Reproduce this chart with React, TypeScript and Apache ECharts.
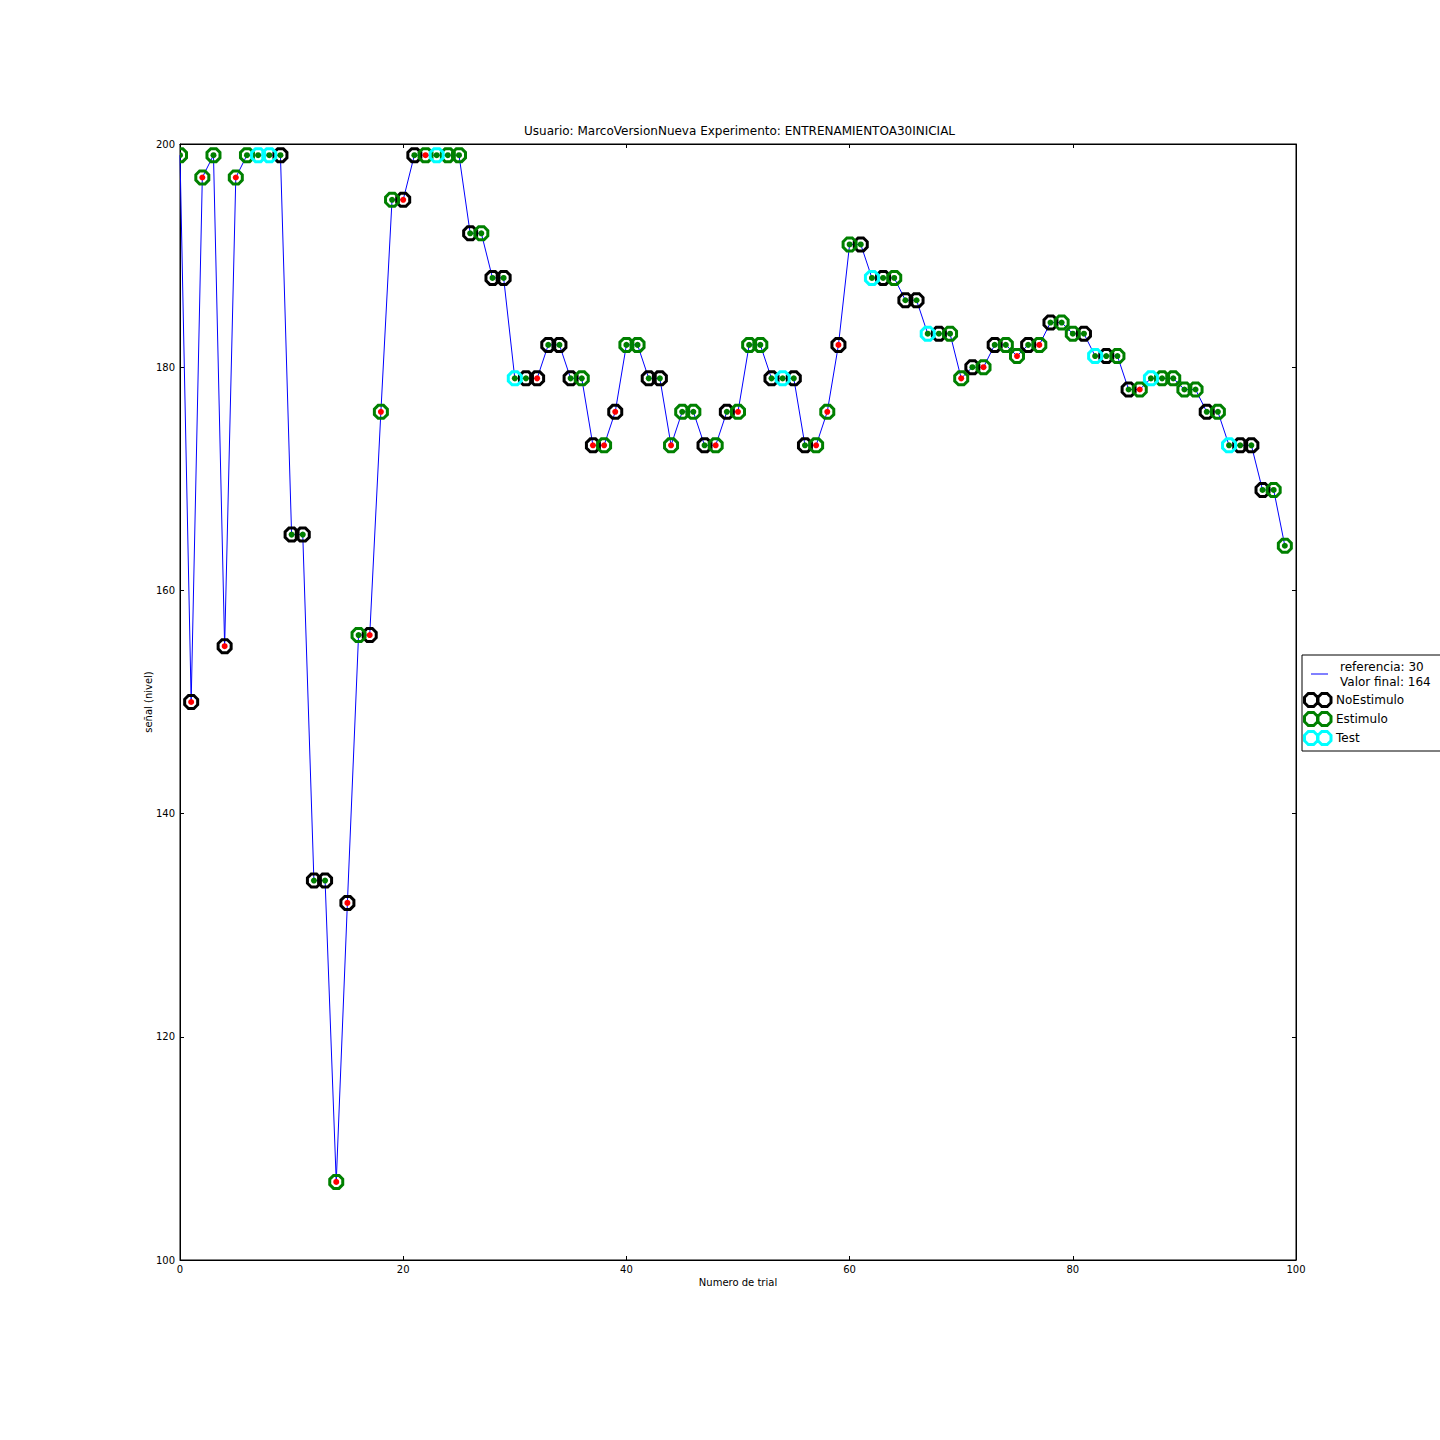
import React, { useEffect, useRef } from "react";
import * as echarts from "echarts";

// Señal (nivel) por trial, trials 0..99
const signal: number[] = [
  199, 150, 197, 199, 155, 197, 199, 199, 199, 199,
  165, 165, 134, 134, 107, 132, 156, 156, 176, 195,
  195, 199, 199, 199, 199, 199, 192, 192, 188, 188,
  179, 179, 179, 182, 182, 179, 179, 173, 173, 176,
  182, 182, 179, 179, 173, 176, 176, 173, 173, 176,
  176, 182, 182, 179, 179, 179, 173, 173, 176, 182,
  191, 191, 188, 188, 188, 186, 186, 183, 183, 183,
  179, 180, 180, 182, 182, 181, 182, 182, 184, 184,
  183, 183, 181, 181, 181, 178, 178, 179, 179, 179,
  178, 178, 176, 176, 173, 173, 173, 169, 169, 164,
];

// Tipo de trial: N = NoEstimulo, E = Estimulo, T = Test
const trialType: string[] = (
  "ENEENEETTN" +
  "NNNNENENEE" +
  "NNETEENENN" +
  "TNNNNNENEN" +
  "EENNEEENEN" +
  "EEENTNNEEN" +
  "ENTNENNTNE" +
  "ENENEENENE" +
  "ENTNENETEE" +
  "EENETNNNEE"
).split("");

// Respuesta: g = correcta (verde), r = incorrecta (rojo)
const response: string[] = (
  "grrgrrgggg" +
  "ggggrrgrrg" +
  "rgrggggggg" +
  "ggrggggrrr" +
  "ggggrgggrg" +
  "rggggggrrr" +
  "gggggggggg" +
  "rgrggrgrgg" +
  "ggggggrggg" +
  "gggggggggg"
).split("");

const referencia = 30;
const xTicks = { min: 0, max: 100, interval: 20 };
const yTicks = { min: 100, max: 200, interval: 20 };

const titleText = "Usuario: MarcoVersionNueva Experimento: ENTRENAMIENTOA30INICIAL";
const xName = "Numero de trial";
const yName = "señal (nivel)";

const FONT = "DejaVu Sans";

function octPoints(cx: number, cy: number, half: number): number[][] {
  const b = half * Math.tan(Math.PI / 8);
  return [
    [cx + b, cy - half], [cx + half, cy - b], [cx + half, cy + b], [cx + b, cy + half],
    [cx - b, cy + half], [cx - half, cy + b], [cx - half, cy - b], [cx - b, cy - half],
  ];
}

function octagon(cx: number, cy: number, half: number): string {
  const pts = octPoints(cx, cy, half);
  return "M" + pts.map((p) => p[0].toFixed(3) + "," + p[1].toFixed(3)).join(" L") + " Z";
}

const twoRingIcon = "path://" + octagon(6.5, 6.5, 6.5) + " " + octagon(20, 6.5, 6.5);
const lineIcon = "path://M0,0 M26.5,13 M6.5,6 L23.5,6 L23.5,7 L6.5,7 Z";

export default function App() {
  const ref = useRef<HTMLDivElement>(null);

  useEffect(() => {
    if (!ref.current) return;
    const chart = echarts.init(ref.current, null, { renderer: "svg" });

    const points = signal.map((v, i) => [i, v]);
    const ringData = (t: string) => points.filter((_, i) => trialType[i] === t);
    const dotData = (c: string) => points.filter((_, i) => response[i] === c);

    const ringSeries = (name: string, t: string, color: string) => ({
      name,
      type: "custom",
      data: ringData(t),
      encode: { x: 0, y: 1 },
      clip: true,
      silent: true,
      itemStyle: { color },
      z: 3,
      renderItem: (_params: any, api: any) => {
        const p = api.coord([api.value(0), api.value(1)]);
        return {
          type: "polygon",
          shape: { points: octPoints(p[0], p[1], 6.5) },
          style: { fill: "none", stroke: color, lineWidth: 3 },
        };
      },
    });

    const dotSeries = (name: string, c: string, color: string) => ({
      name,
      type: "custom",
      data: dotData(c),
      encode: { x: 0, y: 1 },
      clip: true,
      silent: true,
      itemStyle: { color },
      z: 4,
      renderItem: (_params: any, api: any) => {
        const p = api.coord([api.value(0), api.value(1)]);
        return {
          type: "circle",
          shape: { cx: p[0], cy: p[1], r: 3 },
          style: { fill: color, stroke: "none" },
        };
      },
    });

    const axisCommon = {
      type: "value",
      splitLine: { show: false },
      axisLine: { show: true, onZero: false, lineStyle: { color: "#000", width: 1 } },
      axisTick: { show: true, inside: true, length: 4, lineStyle: { color: "#000" } },
    };

    const option: any = {
      animation: false,
      backgroundColor: "#fff",
      textStyle: { fontFamily: FONT },
      title: {
        text: titleText,
        left: 524,
        top: 125,
        padding: 0,
        textStyle: { fontFamily: FONT, fontSize: 12, fontWeight: "normal", color: "#000" },
      },
      grid: {
        left: 180,
        top: 144,
        width: 1116,
        height: 1116,
        show: true,
        borderColor: "#000",
        borderWidth: 1,
        backgroundColor: "#fff",
      },
      xAxis: [
        {
          ...axisCommon,
          ...xTicks,
          position: "bottom",
          name: xName,
          nameLocation: "middle",
          nameGap: 17,
          nameMoveOverlap: false,
          nameTextStyle: { fontFamily: FONT, fontSize: 10, color: "#000" },
          axisLabel: { fontFamily: FONT, fontSize: 10, color: "#000", margin: 4 },
        },
        {
          ...axisCommon,
          ...xTicks,
          position: "top",
          axisLabel: { show: false },
        },
      ],
      yAxis: [
        {
          ...axisCommon,
          ...yTicks,
          position: "left",
          name: yName,
          nameLocation: "middle",
          nameGap: 27,
          nameRotate: 90,
          nameMoveOverlap: false,
          nameTextStyle: { fontFamily: FONT, fontSize: 10, color: "#000" },
          axisLabel: { fontFamily: FONT, fontSize: 10, color: "#000", margin: 5 },
        },
        {
          ...axisCommon,
          ...yTicks,
          position: "right",
          axisLabel: { show: false },
        },
      ],
      legend: {
        orient: "vertical",
        left: 1302,
        top: 655,
        padding: [4, 20, 5, 1],
        itemGap: 3,
        itemWidth: 26.5,
        itemHeight: 13,
        itemTextGap: 14,
        selectedMode: false,
        backgroundColor: "#fff",
        borderColor: "#000",
        borderWidth: 1,
        borderRadius: 0,
        textStyle: {
          fontFamily: FONT,
          fontSize: 12,
          lineHeight: 15,
          color: "#000",
          rich: {
            r: { fontFamily: FONT, fontSize: 12, lineHeight: 15, color: "#000", padding: [0, 0, 0, 4] },
          },
        },
        formatter: (name: string) =>
          name === "referencia"
            ? `{r|referencia: ${referencia}}\n{r|Valor final: ${signal[signal.length - 1]}}`
            : name,
        data: [
          { name: "referencia", icon: lineIcon, itemStyle: { color: "#0000ff", borderWidth: 0 } },
          { name: "NoEstimulo", icon: twoRingIcon, itemStyle: { color: "rgba(0,0,0,0)", borderColor: "#000000", borderWidth: 3 } },
          { name: "Estimulo", icon: twoRingIcon, itemStyle: { color: "rgba(0,0,0,0)", borderColor: "#008000", borderWidth: 3 } },
          { name: "Test", icon: twoRingIcon, itemStyle: { color: "rgba(0,0,0,0)", borderColor: "#00ffff", borderWidth: 3 } },
        ],
      },
      series: [
        {
          name: "referencia",
          type: "line",
          data: points,
          symbol: "none",
          lineStyle: { color: "#0000ff", width: 1 },
          itemStyle: { color: "#0000ff" },
          emphasis: { disabled: true },
          z: 2,
        },
        ringSeries("NoEstimulo", "N", "#000000"),
        ringSeries("Estimulo", "E", "#008000"),
        ringSeries("Test", "T", "#00ffff"),
        dotSeries("correcta", "g", "#008000"),
        dotSeries("incorrecta", "r", "#ff0000"),
      ],
    };

    chart.setOption(option);
    return () => chart.dispose();
  }, []);

  return (
    <div
      ref={ref}
      style={{ position: "absolute", left: 0, top: 0, width: 1440, height: 1440 }}
    />
  );
}
